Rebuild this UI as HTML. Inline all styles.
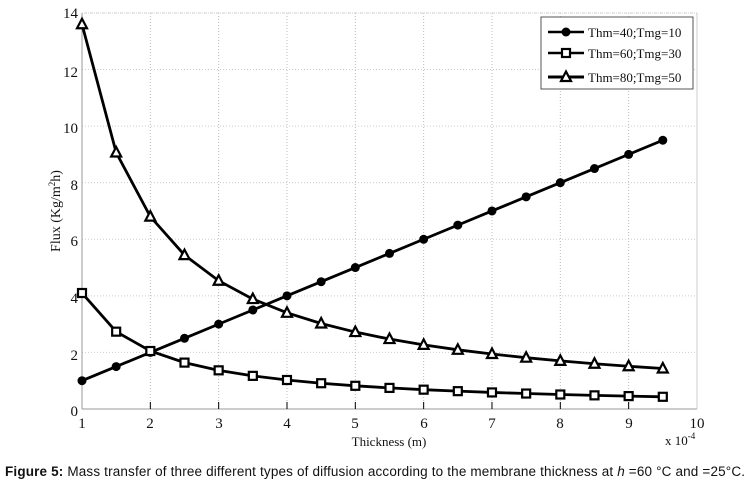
<!DOCTYPE html>
<html><head><meta charset="utf-8"><style>
html,body{margin:0;padding:0;background:#fff;width:750px;height:486px;overflow:hidden}
svg{display:block}
.t{font-family:"Liberation Serif",serif;font-size:15px;fill:#111}
</style></head><body>
<svg id="s" width="750" height="486" viewBox="0 0 750 486">
<g id="grid"></g>
<line x1="82" y1="13" x2="82" y2="409" stroke="#999" stroke-width="1"/>
<line x1="82" y1="409" x2="697" y2="409" stroke="#999" stroke-width="1"/>
<line x1="697" y1="13" x2="697" y2="409" stroke="#ccc" stroke-width="1"/>
<line x1="82" y1="13" x2="697" y2="13" stroke="#ccc" stroke-width="1" stroke-dasharray="1,1"/>
<g id="ticks"></g>
<g id="series"></g>
<g class="t" text-anchor="end">
<text x="78" y="18">14</text><text x="78" y="77">12</text><text x="78" y="133">10</text>
<text x="78" y="190">8</text><text x="78" y="246">6</text><text x="78" y="303">4</text>
<text x="78" y="360">2</text><text x="78" y="416">0</text>
</g>
<g class="t" text-anchor="middle">
<text x="82" y="428">1</text><text x="150" y="428">2</text><text x="219" y="428">3</text>
<text x="287" y="428">4</text><text x="355" y="428">5</text><text x="424" y="428">6</text>
<text x="492" y="428">7</text><text x="560" y="428">8</text><text x="629" y="428">9</text>
<text x="697" y="428">10</text>
<text x="389" y="446" style="font-size:13px">Thickness (m)</text>
</g>
<text class="t" x="665" y="445" style="font-size:13px">x 10<tspan dy="-6" style="font-size:9px">-4</tspan></text>
<text class="t" transform="translate(60,211) rotate(-90)" text-anchor="middle" style="font-size:14px">Flux (Kg/m<tspan dy="-5" style="font-size:9px">2</tspan><tspan dy="5">h)</tspan></text>
<rect x="541" y="17" width="152" height="72" fill="#fff" stroke="#555" stroke-width="1"/>
<g id="leg"></g>
<g class="t" style="font-size:13px">
<text x="588" y="37">Thm=40;Tmg=10</text>
<text x="588" y="58">Thm=60;Tmg=30</text>
<text x="588" y="82">Thm=80;Tmg=50</text>
</g>
<text x="5" y="476" textLength="740" lengthAdjust="spacing" style="font-family:'Liberation Sans',sans-serif;font-size:13.5px;fill:#111"><tspan font-weight="bold">Figure 5:</tspan> Mass transfer of three different types of diffusion according to the membrane thickness at <tspan font-style="italic">h</tspan>  =60 °C and =25°C.</text>
</svg>
<script>
var NS="http://www.w3.org/2000/svg";
function X(v){return 82+(v-1)*68.33}
function Y(v){return 409-v*28.29}
function el(p,n,a){var e=document.createElementNS(NS,n);for(var k in a)e.setAttribute(k,a[k]);document.getElementById(p).appendChild(e);return e}
for(var i=2;i<=9;i++)el("grid","line",{x1:X(i),x2:X(i),y1:13,y2:409,stroke:"#bbb","stroke-dasharray":"1,2"});
for(var j=2;j<=14;j+=2)el("grid","line",{x1:82,x2:697,y1:Y(j),y2:Y(j),stroke:"#ccc","stroke-dasharray":"1,2"});
for(var i=2;i<=9;i++)el("ticks","line",{x1:X(i),x2:X(i),y1:409,y2:402,stroke:"#000"});
var xs=[];for(var x=1;x<=9.51;x+=0.5)xs.push(x);
function mark(g,t,cx,cy){
 if(t==0)el(g,"circle",{cx:cx,cy:cy,r:4.5,fill:"#000"});
 else if(t==1)el(g,"rect",{x:cx-4,y:cy-4,width:8,height:8,fill:"#fff",stroke:"#000","stroke-width":2.2});
 else el(g,"polygon",{points:(cx)+","+(cy-5.5)+" "+(cx-5)+","+(cy+4)+" "+(cx+5)+","+(cy+4),fill:"#fff",stroke:"#000","stroke-width":2.2});
}
var fns=[function(x){return x},function(x){return 4.1/x},function(x){return 13.6/x}];
fns.forEach(function(f,t){
 var pts=xs.map(function(x){return X(x)+","+Y(f(x))}).join(" ");
 el("series","polyline",{points:pts,fill:"none",stroke:"#000","stroke-width":2.8});
 xs.forEach(function(x){mark("series",t,X(x),Y(f(x)))});
});
[32,53,77].forEach(function(y,t){
 el("leg","line",{x1:548,x2:584,y1:y,y2:y,stroke:"#000","stroke-width":t==2?3:2.5});
 mark("leg",t,566,y);
});
</script>
</body></html>
